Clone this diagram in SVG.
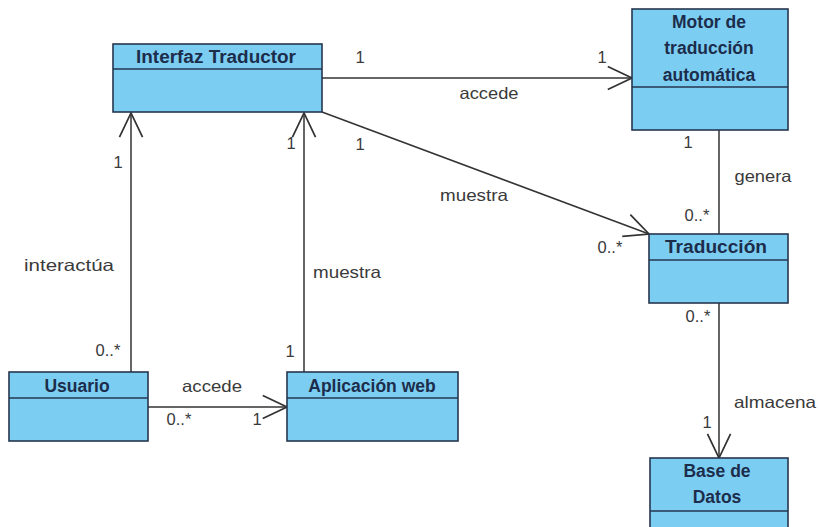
<svg xmlns="http://www.w3.org/2000/svg" width="818" height="527" viewBox="0 0 818 527">
  <style>
    .box { fill: #7ccdf2; stroke: #26364f; stroke-width: 1.6; }
    .div { stroke: #26364f; stroke-width: 1.6; }
    .title { font-family: "Liberation Sans", Arial, sans-serif; font-size: 17.5px; font-weight: bold; fill: #1c2d4c; text-anchor: middle; }
    .lbl { font-family: "Liberation Sans", Arial, sans-serif; font-size: 16.5px; fill: #3a3a3a; text-anchor: middle; }
    .edge { stroke: #333; stroke-width: 1.5; fill: none; }
  </style>
  <defs>
    <marker id="open" markerUnits="userSpaceOnUse" markerWidth="30" markerHeight="30" viewBox="-24 -12 26 24" refX="0" refY="0" orient="auto" overflow="visible">
      <path d="M -21 -10 L 0 0 L -21 10" fill="none" stroke="#333" stroke-width="1.5"/>
    </marker>
  </defs>
  <rect width="818" height="527" fill="#ffffff"/>

  <g id="connectors">
    <line class="edge" x1="322" y1="78" x2="632" y2="78" marker-end="url(#open)"/>
    <line class="edge" x1="322" y1="112" x2="649" y2="234" marker-end="url(#open)"/>
    <line class="edge" x1="719" y1="130" x2="719" y2="234"/>
    <line class="edge" x1="719" y1="303" x2="719" y2="458" marker-end="url(#open)"/>
    <line class="edge" x1="131" y1="372" x2="131" y2="113" marker-end="url(#open)"/>
    <line class="edge" x1="304" y1="372" x2="304" y2="113" marker-end="url(#open)"/>
    <line class="edge" x1="148" y1="407" x2="287" y2="407" marker-end="url(#open)"/>

    <text class="lbl" x="360" y="63">1</text>
    <text class="lbl" x="602" y="63">1</text>
    <text class="lbl" x="489" y="99" textLength="59" lengthAdjust="spacingAndGlyphs">accede</text>

    <text class="lbl" x="360" y="150">1</text>
    <text class="lbl" x="474" y="201" textLength="68" lengthAdjust="spacingAndGlyphs">muestra</text>
    <text class="lbl" x="610" y="253">0..*</text>

    <text class="lbl" x="688" y="148">1</text>
    <text class="lbl" x="763" y="182" textLength="57" lengthAdjust="spacingAndGlyphs">genera</text>
    <text class="lbl" x="697" y="221">0..*</text>

    <text class="lbl" x="698" y="322">0..*</text>
    <text class="lbl" x="775" y="408" textLength="82" lengthAdjust="spacingAndGlyphs">almacena</text>
    <text class="lbl" x="707" y="428">1</text>

    <text class="lbl" x="118" y="168">1</text>
    <text class="lbl" x="69" y="271" textLength="90" lengthAdjust="spacingAndGlyphs">interactúa</text>
    <text class="lbl" x="108" y="356">0..*</text>

    <text class="lbl" x="291" y="149">1</text>
    <text class="lbl" x="347" y="278" textLength="68" lengthAdjust="spacingAndGlyphs">muestra</text>
    <text class="lbl" x="290" y="357">1</text>

    <text class="lbl" x="212" y="392" textLength="60" lengthAdjust="spacingAndGlyphs">accede</text>
    <text class="lbl" x="179" y="425">0..*</text>
    <text class="lbl" x="257" y="425">1</text>
  </g>

  <g id="interfaz-traductor">
    <rect class="box" x="113" y="44" width="209" height="68"/>
    <line class="div" x1="113" y1="69" x2="322" y2="69"/>
    <text class="title" x="216" y="63" textLength="160" lengthAdjust="spacingAndGlyphs">Interfaz Traductor</text>
  </g>

  <g id="motor-traduccion">
    <rect class="box" x="632" y="9" width="156" height="121"/>
    <line class="div" x1="632" y1="87" x2="788" y2="87"/>
    <text class="title" x="709" y="28">Motor de</text>
    <text class="title" x="709" y="54">traducción</text>
    <text class="title" x="709" y="81">automática</text>
  </g>

  <g id="traduccion">
    <rect class="box" x="649" y="234" width="139" height="69"/>
    <line class="div" x1="649" y1="260" x2="788" y2="260"/>
    <text class="title" x="716" y="253" textLength="102" lengthAdjust="spacingAndGlyphs">Traducción</text>
  </g>

  <g id="base-datos">
    <rect class="box" x="650" y="458" width="138" height="80"/>
    <line class="div" x1="650" y1="511" x2="788" y2="511"/>
    <text class="title" x="717" y="477">Base de</text>
    <text class="title" x="717" y="503">Datos</text>
  </g>

  <g id="usuario">
    <rect class="box" x="9" y="372" width="139" height="69"/>
    <line class="div" x1="9" y1="398" x2="148" y2="398"/>
    <text class="title" x="77" y="392">Usuario</text>
  </g>

  <g id="aplicacion-web">
    <rect class="box" x="287" y="372" width="171" height="69"/>
    <line class="div" x1="287" y1="398" x2="458" y2="398"/>
    <text class="title" x="372" y="392">Aplicación web</text>
  </g>
</svg>
